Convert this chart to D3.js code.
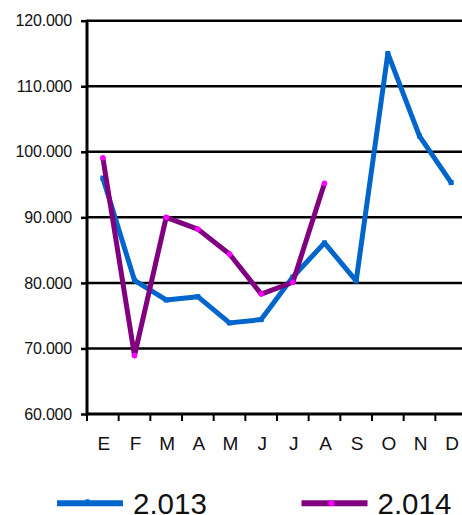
<!DOCTYPE html>
<html>
<head>
<meta charset="utf-8">
<script src="https://cdn.jsdelivr.net/npm/d3@7"></script>
<style>
  html, body { margin: 0; padding: 0; background: #fff; }
  svg { display: block; font-family: "Liberation Sans", Arial, sans-serif; }
</style>
</head>
<body>
<script>
// Monthly values, two years
const months = ["E", "F", "M", "A", "M", "J", "J", "A", "S", "O", "N", "D"];
const values2013 = [96000, 80400, 77400, 77900, 73900, 74400, 80900, 86100, 80300, 115000, 102400, 95300];
const values2014 = [99100, 68900, 90000, 88200, 84400, 78300, 80100, 95200];
const yTicks = [60000, 70000, 80000, 90000, 100000, 110000, 120000];
const seriesNames = ["2.013", "2.014"];

const W = 462, H = 515;
const plotLeft = 87, plotRight = 467, plotTop = 20.7, plotBottom = 414;

const svg = d3.select("body").append("svg").attr("width", W).attr("height", H);

const x = d3.scaleBand().domain(d3.range(months.length)).range([plotLeft, plotRight]);
const y = d3.scaleLinear().domain([60000, 120000]).range([plotBottom, plotTop]);

const fmt = v => d3.format(",")(v).replace(/,/g, ".");

// horizontal gridlines
svg.append("g").selectAll("line").data(yTicks.slice(1)).join("line")
  .attr("x1", plotLeft).attr("x2", W)
  .attr("y1", d => y(d)).attr("y2", d => y(d))
  .attr("stroke", "#000").attr("stroke-width", 2.5);

// y axis
const yAxis = svg.append("g").attr("transform", `translate(${plotLeft},0)`)
  .call(d3.axisLeft(y).tickValues(yTicks).tickFormat(fmt).tickSize(6).tickPadding(9));
yAxis.select(".domain").remove();
yAxis.selectAll(".tick line").attr("stroke", "#000").attr("stroke-width", 2.5);
yAxis.selectAll(".tick text").attr("font-size", 16).attr("fill", "#111")
  .attr("font-family", "Liberation Sans, Arial, sans-serif").attr("letter-spacing", -0.2);
svg.append("line").attr("x1", plotLeft).attr("x2", plotLeft).attr("y1", plotTop - 1).attr("y2", plotBottom + 1.5)
  .attr("stroke", "#000").attr("stroke-width", 3);

// x axis with ticks at the band boundaries
const xEdges = d3.range(months.length + 1).map(i => plotLeft + i * x.step());
svg.append("g").selectAll("line").data(xEdges).join("line")
  .attr("x1", d => d).attr("x2", d => d)
  .attr("y1", plotBottom).attr("y2", plotBottom + 7)
  .attr("stroke", "#000").attr("stroke-width", 2);
svg.append("line").attr("x1", plotLeft).attr("x2", W).attr("y1", plotBottom).attr("y2", plotBottom)
  .attr("stroke", "#000").attr("stroke-width", 3);
svg.append("g").selectAll("text").data(months).join("text")
  .attr("x", (d, i) => x(i) + x.bandwidth() / 2 + 1)
  .attr("y", 450)
  .attr("text-anchor", "middle")
  .attr("font-size", 19).attr("fill", "#111")
  .text(d => d);

const cx = i => x(i) + x.bandwidth() / 2;
const line = d3.line().x((d, i) => cx(i)).y(d => y(d));

// 2013 series
svg.append("path").datum(values2013).attr("d", line)
  .attr("fill", "none").attr("stroke", "#0066CC").attr("stroke-width", 5)
  .attr("stroke-linejoin", "round");
svg.append("g").selectAll("rect").data(values2013).join("rect")
  .attr("x", (d, i) => cx(i) - 2.5).attr("y", d => y(d) - 2.5)
  .attr("width", 5).attr("height", 5).attr("fill", "#0066CC");

// 2014 series
svg.append("path").datum(values2014).attr("d", line)
  .attr("fill", "none").attr("stroke", "#800080").attr("stroke-width", 5)
  .attr("stroke-linejoin", "round");
svg.append("g").selectAll("circle").data(values2014).join("circle")
  .attr("cx", (d, i) => cx(i)).attr("cy", d => y(d))
  .attr("r", 2.8).attr("fill", "#FF00FF");

// legend
const legend = [
  { name: seriesNames[0], color: "#0066CC", marker: "#0066CC", x: 57 },
  { name: seriesNames[1], color: "#800080", marker: "#FF00FF", x: 301.5 }
];
const lg = svg.append("g").selectAll("g").data(legend).join("g")
  .attr("transform", d => `translate(${d.x},503.3)`);
lg.append("line").attr("x1", 0).attr("x2", 66).attr("y1", 0).attr("y2", 0)
  .attr("stroke", d => d.color).attr("stroke-width", 6);
lg.filter((d, i) => i === 1).append("circle").attr("cx", 30).attr("cy", 0).attr("r", 3)
  .attr("fill", d => d.marker);
lg.filter((d, i) => i === 0).append("rect").attr("x", 28.5).attr("y", -4).attr("width", 4).attr("height", 5)
  .attr("fill", d => d.marker);
lg.append("text").attr("x", 76).attr("y", 10.2)
  .attr("font-size", 29.5).attr("fill", "#111")
  .text(d => d.name);
</script>
</body>
</html>
